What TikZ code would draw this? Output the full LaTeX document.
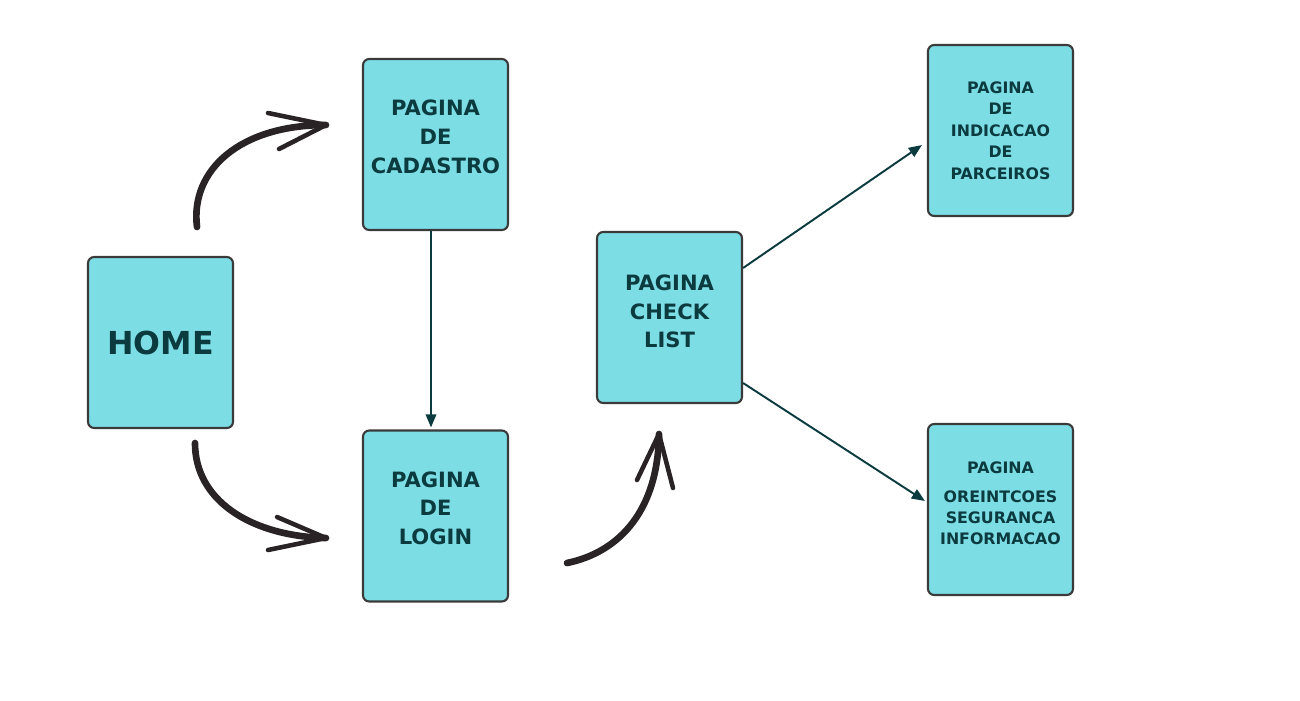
\documentclass[tikz,border=0pt]{standalone}
\usepackage{fontspec}
\setmainfont{DejaVu Sans}
\usetikzlibrary{arrows.meta}
\definecolor{ciano}{HTML}{7DDDE5}
\definecolor{borda}{HTML}{3A3A3A}
\definecolor{texto}{HTML}{0B3A3F}
\definecolor{traco}{HTML}{2A2326}
\tikzset{
  pagina/.style={draw=borda, fill=ciano, line width=1.2pt, rounded corners=3.5pt,
    minimum width=2.9cm, minimum height=3.42cm, align=center, text=texto},
  fonteA/.style={font=\fontsize{12}{16.4}\selectfont\bfseries, text depth=9pt},
  fonteB/.style={font=\fontsize{9}{12.2}\selectfont\bfseries},
  conexao/.style={draw=texto, line width=1.1pt, -{Triangle[length=7.5pt,width=6pt]}},
  rabisco/.style={draw=traco, line width=3.8pt, line cap=round},
  ponta/.style={draw=traco, line width=2.6pt, line cap=round, line join=round}
}
\begin{document}
\begin{tikzpicture}[x=0.02cm, y=-0.02cm]
  \useasboundingbox (0,0) rectangle (1300,700);
  % paginas
  \node[pagina, font=\fontsize{18}{20}\selectfont\bfseries] (home) at (160.5,342.5) {HOME};
  \node[pagina, fonteA] (cadastro) at (435.5,144.5) {PAGINA\\DE\\CADASTRO};
  \node[pagina, fonteA] (login) at (435.5,516) {PAGINA\\DE\\LOGIN};
  \node[pagina, fonteA, text depth=7pt] (check) at (669.5,317.5) {PAGINA\\CHECK\\LIST};
  \node[pagina, fonteB] (indicacao) at (1000.5,130.5) {PAGINA\\DE\\INDICACAO\\DE\\PARCEIROS};
  \node[pagina, fonteB, text depth=7pt] (orientacao) at (1000.5,509.5) {PAGINA\\[4pt]OREINTCOES\\SEGURANCA\\INFORMACAO};
  % setas simples
  \draw[conexao] ([xshift=-0.09cm]cadastro.south) -- ([xshift=-0.09cm,yshift=0.04cm]login.north);
  \draw[conexao] ([yshift=0.99cm]check.east) -- ([xshift=-0.1cm,yshift=-0.29cm]indicacao.west);
  \draw[conexao] ([yshift=-1.31cm]check.east) -- ([xshift=-0.04cm,yshift=0.17cm]orientacao.west);
  % setas desenhadas a mao
  \coordinate (s1a) at (197,227); \coordinate (s1b) at (326,125);
  \coordinate (s2a) at (195,443); \coordinate (s2b) at (326,538);
  \coordinate (s3a) at (567,563); \coordinate (s3b) at (659,434);
  \draw[rabisco] (s1a) .. controls (190,170) and (240,125) .. (s1b);
  \draw[ponta] (268,113) -- (s1b) -- (279,149);
  \draw[rabisco] (s2a) .. controls (195,500) and (250,536) .. (s2b);
  \draw[ponta] (277,517) -- (s2b) -- (268,550);
  \draw[rabisco] (s3a) .. controls (620,552) and (658,510) .. (s3b);
  \draw[ponta] (637,480) -- (s3b) -- (673,488);
\end{tikzpicture}
\end{document}
